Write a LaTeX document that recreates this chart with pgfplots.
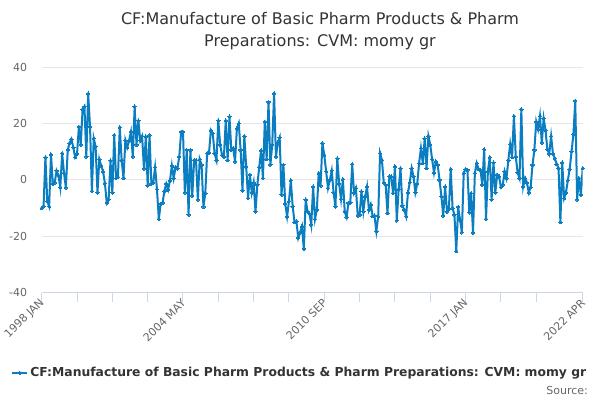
\documentclass[border=0pt]{standalone}
\usepackage{fontspec}
\setmainfont{DejaVu Sans}
\usepackage{pgfplots}
\pgfplotsset{compat=1.18}
\definecolor{series}{HTML}{0B7DC1}
\definecolor{gridc}{HTML}{E6E6E6}
\definecolor{axisc}{HTML}{CCD6EB}
\definecolor{labc}{HTML}{666666}
\definecolor{titc}{HTML}{333333}
\begin{document}
\begin{tikzpicture}
\useasboundingbox (0,0) rectangle (600bp,-400bp);
\begin{axis}[
  at={(41.7bp,-292.7bp)}, anchor=south west,
  scale only axis, width=541bp, height=225.7bp,
  xmin=0, xmax=291, ymin=-40, ymax=40,
  axis x line*=bottom, axis y line*=left,
  x axis line style={draw=axisc, line width=1bp, -},
  y axis line style={draw=none},
  ytick={-40,-20,0,20,40},
  ymajorgrids, major grid style={draw=gridc, line width=1bp},
  xtick={0,76,152,228,291},
  xticklabels={1998 JAN,2004 MAY,2010 SEP,2017 JAN,2022 APR},
  minor xtick={19,38,57,95,114,133,171,190,209,247,266},
  tick align=outside,
  major tick length=9bp, minor tick length=9bp,
  every tick/.style={draw=axisc, line width=1bp},
  ytick style={draw=none},
  /pgf/number format/assume math mode=true,
  ticklabel style={font=\fontsize{11bp}{13bp}\selectfont, text=labc},
  yticklabel style={anchor=east, inner sep=0pt, xshift=-5.4bp},
  xticklabel style={rotate=45, anchor=east, inner sep=0pt, xshift=1bp},
  title={CF:Manufacture of Basic Pharm Products \& Pharm\\Preparations: CVM: momy gr},
  title style={at={(axis description cs:0.5144,1)}, anchor=north, yshift=49bp, align=center, font=\fontsize{16bp}{21.7bp}\selectfont, text=titc, inner sep=0pt},
  legend style={at={(axis description cs:0,0)}, anchor=west, xshift=-30.5bp, yshift=-80.3bp, draw=none, fill=none, inner sep=0pt, font=\bfseries\fontsize{12.35bp}{15bp}\selectfont, text=titc, /tikz/every even column/.append style={column sep=2bp}},
  legend image code/.code={\draw[#1, mark repeat=2, mark phase=2] plot coordinates {(0bp,0bp) (7.5bp,0bp) (15bp,0bp)};},
]
\addplot[color=series, line width=2bp, mark=*, mark size=1.7bp, mark options={fill=series, draw=series, line width=0pt}] coordinates {
(0,-10)(1,-9.4)(2,8)(3,-7.6)(4,-9.4)(5,9)(6,-1.4)(7,-1)(8,3.2)(9,1.5)(10,-2.7)(11,9.4)(12,2.4)(13,-2.7)(14,10.6)(15,13)(16,14.4)(17,11.5)(18,8)(19,9.2)(20,18.8)(21,12.4)(22,25)(23,26)(24,8.2)(25,30.6)(26,18.8)(27,-4)(28,14.7)(29,11.8)(30,-4.5)(31,7.3)(32,5)(33,3)(34,-1.2)(35,-8.2)(36,-7)(37,6.8)(38,-4.5)(39,15.9)(40,0.6)(41,1)(42,18.6)(43,7)(44,0.6)
(45,14)(46,11.5)(47,13.9)(48,17)(49,8.2)(50,26)(51,12.4)(52,21)(53,14)(54,15.5)(55,4)(56,15.3)(57,-2)(58,15.9)(59,-1.4)(60,-1)(61,4.5)(62,-3.3)(63,-13.9)(64,-8.5)(65,-8.2)(66,-4)(67,-1.4)(68,-3.5)(69,-0.2)(70,5)(71,0.6)(72,4.5)(73,4)(74,8.2)(75,17)(76,17)(77,-4.5)(78,10.6)(79,-12.4)(80,10.6)(81,-5.6)(82,7)(83,7)(84,-7)(85,7.3)(86,5.3)(87,-9.6)(88,-4.7)(89,9.4)(90,9.6)(91,17.6)(92,16.5)(93,9.4)
(94,7)(95,21)(96,12.4)(97,8.8)(98,8.2)(99,21)(100,7)(101,22.4)(102,10.6)(103,11.2)(104,6.5)(105,18.2)(106,20)(107,10.6)(108,-3.8)(109,15.5)(110,4.7)(111,-6.5)(112,1.8)(113,-4.5)(114,-1)(115,-11.2)(116,-1.8)(117,4.5)(118,10.4)(119,0.6)(120,20.6)(121,7.3)(122,27.6)(123,5.3)(124,12.4)(125,30.6)(126,8.2)(127,13.2)(128,15)(129,-5.3)(130,5.3)(131,-8.5)(132,-13)(133,-7.6)(134,-0.2)(135,-9.4)(136,-15)(137,-14.7)(138,-20.6)(139,-18.6)(140,-16.5)(141,-24.5)
(142,-7)(143,-11.2)(144,-12)(145,-15.9)(146,-2.4)(147,-13.9)(148,-10.6)(149,2.4)(150,-2.1)(151,13)(152,8.8)(153,3)(154,-2.9)(155,0)(156,3.3)(157,-4.5)(158,-9.4)(159,7.6)(160,-1.4)(161,-6.8)(162,0.2)(163,-11.2)(164,-13.2)(165,-8.2)(166,-8)(167,5.6)(168,-4.5)(169,-2.9)(170,-12.7)(171,-12.4)(172,-4.1)(173,-11.2)(174,-5.9)(175,-2.4)(176,-10.6)(177,-8.8)(178,-12.9)(179,-12.7)(180,-18.2)(181,-12.9)(182,9.4)(183,7)(184,-1)(185,-1.8)(186,-11.8)(187,1.2)(188,1.2)(189,-4.7)
(190,4.7)(191,-14.4)(192,-3.3)(193,4.1)(194,-9.2)(195,-10.6)(196,-12.9)(197,-4.5)(198,-0.9)(199,4.1)(200,1.2)(201,-4.5)(202,-1.4)(203,5.9)(204,11.2)(205,5.9)(206,14.7)(207,4.1)(208,15.5)(209,12.4)(210,7.3)(211,2.6)(212,6.5)(213,5.3)(214,0)(215,-5.9)(216,-12.7)(217,-2.4)(218,-11.2)(219,-10.4)(220,3.8)(221,-10)(222,-12.4)(223,-25.3)(224,-9.6)(225,-14.1)(226,-18.6)(227,2.4)(228,3.8)(229,3.5)(230,-11.5)(231,-4.7)(232,-18.8)(233,2.4)(234,5.9)(235,3.8)(236,3.5)(237,-1.8)(238,10.8)
(239,-13.9)(240,3)(241,8)(242,-7)(243,6.1)(244,-4.5)(245,1.8)(246,1.2)(247,-2.6)(248,-1.8)(249,3)(250,0.6)(251,7)(252,12.7)(253,8)(254,22.6)(255,8.2)(256,2.6)(257,0.6)(258,25)(259,-2.4)(260,0.6)(261,-1)(262,-4.5)(263,-2.6)(264,5.3)(265,10.6)(266,20.6)(267,17.9)(268,22.6)(269,13.2)(270,21.8)(271,17.6)(272,10.8)(273,9.2)(274,15.5)(275,9.2)(276,7.6)(277,5.6)(278,4.1)(279,-15)(280,6.1)(281,-6.5)(282,-4.5)(283,-0.2)(284,3.8)(285,10)(286,16.2)(287,28)(288,-7)(289,0.6)(290,-5.3)(291,4.1)
};
\addlegendentry{CF:Manufacture of Basic Pharm Products \& Pharm Preparations: CVM: momy gr}
\end{axis}
\node[anchor=base east, inner sep=0pt, text=labc, font=\fontsize{11bp}{13bp}\selectfont] at (588bp,-394.3bp) {Source:};
\end{tikzpicture}
\end{document}
